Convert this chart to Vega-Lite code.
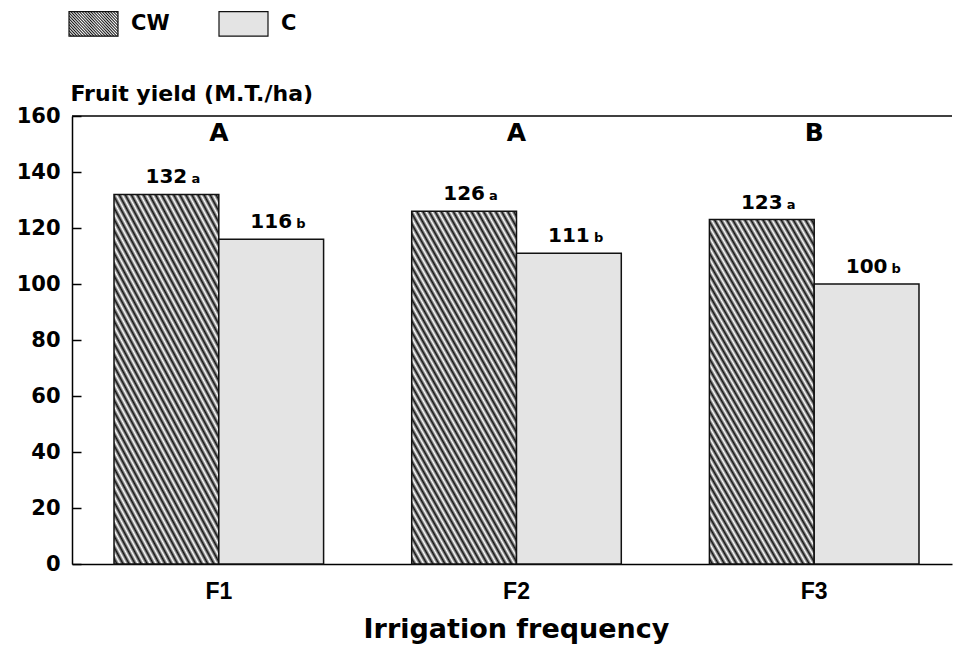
{
  "$schema": "https://vega.github.io/schema/vega-lite/v6.json",
  "autosize": {"type": "none"},
  "width": 880,
  "height": 448,
  "padding": {"left": 72, "top": 116, "right": 2, "bottom": 85},
  "background": "white",
  "config": {"font": "DejaVu Sans", "view": {"stroke": null}},
  "datasets": {
    "bars": [
      {"freq": "F1", "series": "CW", "yield": 132, "letter": "a"},
      {"freq": "F1", "series": "C", "yield": 116, "letter": "b"},
      {"freq": "F2", "series": "CW", "yield": 126, "letter": "a"},
      {"freq": "F2", "series": "C", "yield": 111, "letter": "b"},
      {"freq": "F3", "series": "CW", "yield": 123, "letter": "a"},
      {"freq": "F3", "series": "C", "yield": 100, "letter": "b"}
    ],
    "groups": [
      {"freq": "F1", "grp": "A"},
      {"freq": "F2", "grp": "A"},
      {"freq": "F3", "grp": "B"}
    ]
  },
  "layer": [
    {
      "data": {"name": "bars"},
      "mark": {"type": "bar", "stroke": "#111111", "strokeWidth": 1.5},
      "encoding": {
        "x": {
          "field": "freq", "type": "nominal", "sort": ["F1", "F2", "F3"],
          "scale": {"paddingInner": 0.296, "paddingOuter": 0.126, "align": 0.56},
          "axis": {
            "ticks": false, "domainColor": "black", "domainWidth": 1.5,
            "labelFont": "Liberation Sans", "labelFontSize": 23, "labelFontWeight": "bold",
            "labelColor": "black", "labelPadding": 16, "labelAngle": 0,
            "title": "Irrigation frequency", "titleFont": "DejaVu Sans", "titleFontSize": 27,
            "titleFontWeight": "bold", "titleColor": "black", "titleX": 444, "titleY": 73,
            "titleBaseline": "alphabetic", "titleAlign": "center"
          }
        },
        "xOffset": {"field": "series", "type": "nominal", "sort": ["CW", "C"], "scale": {"paddingInner": 0, "paddingOuter": 0}},
        "y": {
          "field": "yield", "type": "quantitative",
          "scale": {"domain": [0, 160], "nice": false},
          "axis": {
            "values": [0, 20, 40, 60, 80, 100, 120, 140, 160],
            "grid": false,
            "ticks": true, "tickSize": -9, "tickWidth": 1.5, "tickColor": "black", "tickOpacity": 1,
            "domainColor": "black", "domainWidth": 1.5,
            "labelFont": "DejaVu Sans", "labelFontSize": 21, "labelFontWeight": "bold",
            "labelColor": "black", "labelPadding": 21,
            "title": "Fruit yield (M.T./ha)", "titleAngle": 0, "titleX": -2, "titleY": -16,
            "titleAlign": "left", "titleBaseline": "alphabetic", "titleFontSize": 22,
            "titleFontWeight": "bold", "titleColor": "black"
          }
        },
        "fill": {
          "field": "series", "type": "nominal",
          "scale": {
            "domain": ["CW", "C"],
            "range": [
              {"expr": "{gradient: 'linear', x1: 0, y1: 1, x2: 0.633, y2: -0.195, stops: [{offset: 0, color: '#ffffff'}, {offset: 0.01, color: '#111111'}, {offset: 0.02, color: '#ffffff'}, {offset: 0.03, color: '#111111'}, {offset: 0.04, color: '#ffffff'}, {offset: 0.05, color: '#111111'}, {offset: 0.06, color: '#ffffff'}, {offset: 0.07, color: '#111111'}, {offset: 0.08, color: '#ffffff'}, {offset: 0.09, color: '#111111'}, {offset: 0.1, color: '#ffffff'}, {offset: 0.11, color: '#111111'}, {offset: 0.12, color: '#ffffff'}, {offset: 0.13, color: '#111111'}, {offset: 0.14, color: '#ffffff'}, {offset: 0.15, color: '#111111'}, {offset: 0.16, color: '#ffffff'}, {offset: 0.17, color: '#111111'}, {offset: 0.18, color: '#ffffff'}, {offset: 0.19, color: '#111111'}, {offset: 0.2, color: '#ffffff'}, {offset: 0.21, color: '#111111'}, {offset: 0.22, color: '#ffffff'}, {offset: 0.23, color: '#111111'}, {offset: 0.24, color: '#ffffff'}, {offset: 0.25, color: '#111111'}, {offset: 0.26, color: '#ffffff'}, {offset: 0.27, color: '#111111'}, {offset: 0.28, color: '#ffffff'}, {offset: 0.29, color: '#111111'}, {offset: 0.3, color: '#ffffff'}, {offset: 0.31, color: '#111111'}, {offset: 0.32, color: '#ffffff'}, {offset: 0.33, color: '#111111'}, {offset: 0.34, color: '#ffffff'}, {offset: 0.35, color: '#111111'}, {offset: 0.36, color: '#ffffff'}, {offset: 0.37, color: '#111111'}, {offset: 0.38, color: '#ffffff'}, {offset: 0.39, color: '#111111'}, {offset: 0.4, color: '#ffffff'}, {offset: 0.41, color: '#111111'}, {offset: 0.42, color: '#ffffff'}, {offset: 0.43, color: '#111111'}, {offset: 0.44, color: '#ffffff'}, {offset: 0.45, color: '#111111'}, {offset: 0.46, color: '#ffffff'}, {offset: 0.47, color: '#111111'}, {offset: 0.48, color: '#ffffff'}, {offset: 0.49, color: '#111111'}, {offset: 0.5, color: '#ffffff'}, {offset: 0.51, color: '#111111'}, {offset: 0.52, color: '#ffffff'}, {offset: 0.53, color: '#111111'}, {offset: 0.54, color: '#ffffff'}, {offset: 0.55, color: '#111111'}, {offset: 0.56, color: '#ffffff'}, {offset: 0.57, color: '#111111'}, {offset: 0.58, color: '#ffffff'}, {offset: 0.59, color: '#111111'}, {offset: 0.6, color: '#ffffff'}, {offset: 0.61, color: '#111111'}, {offset: 0.62, color: '#ffffff'}, {offset: 0.63, color: '#111111'}, {offset: 0.64, color: '#ffffff'}, {offset: 0.65, color: '#111111'}, {offset: 0.66, color: '#ffffff'}, {offset: 0.67, color: '#111111'}, {offset: 0.68, color: '#ffffff'}, {offset: 0.69, color: '#111111'}, {offset: 0.7, color: '#ffffff'}, {offset: 0.71, color: '#111111'}, {offset: 0.72, color: '#ffffff'}, {offset: 0.73, color: '#111111'}, {offset: 0.74, color: '#ffffff'}, {offset: 0.75, color: '#111111'}, {offset: 0.76, color: '#ffffff'}, {offset: 0.77, color: '#111111'}, {offset: 0.78, color: '#ffffff'}, {offset: 0.79, color: '#111111'}, {offset: 0.8, color: '#ffffff'}, {offset: 0.81, color: '#111111'}, {offset: 0.82, color: '#ffffff'}, {offset: 0.83, color: '#111111'}, {offset: 0.84, color: '#ffffff'}, {offset: 0.85, color: '#111111'}, {offset: 0.86, color: '#ffffff'}, {offset: 0.87, color: '#111111'}, {offset: 0.88, color: '#ffffff'}, {offset: 0.89, color: '#111111'}, {offset: 0.9, color: '#ffffff'}, {offset: 0.91, color: '#111111'}, {offset: 0.92, color: '#ffffff'}, {offset: 0.93, color: '#111111'}, {offset: 0.94, color: '#ffffff'}, {offset: 0.95, color: '#111111'}, {offset: 0.96, color: '#ffffff'}, {offset: 0.97, color: '#111111'}, {offset: 0.98, color: '#ffffff'}, {offset: 0.99, color: '#111111'}, {offset: 1, color: '#ffffff'}]}"},
              "#e4e4e4"
            ]
          },
          "legend": {
            "orient": "none", "legendX": -4, "legendY": -118, "direction": "horizontal",
            "title": null, "padding": 0,
            "symbolType": "M-1,-0.5H1V0.5H-1Z", "symbolSize": 2401,
            "symbolStrokeColor": "#111111", "symbolStrokeWidth": 1.2,
            "labelFont": "DejaVu Sans", "labelFontSize": 21, "labelFontWeight": "bold",
            "labelColor": "black", "labelOffset": 12, "columnPadding": 46,
            "encode": {
              "symbols": {
                "update": {
                  "stroke": {"value": "#111111"},
                  "strokeWidth": {"value": 1.2},
                  "fill": {"signal": "datum.value === 'CW' ? {gradient: 'linear', x1: 0, y1: 1, x2: 1.186, y2: 0.67, stops: [{offset: 0, color: '#ffffff'}, {offset: 0.05, color: '#111111'}, {offset: 0.1, color: '#ffffff'}, {offset: 0.15, color: '#111111'}, {offset: 0.2, color: '#ffffff'}, {offset: 0.25, color: '#111111'}, {offset: 0.3, color: '#ffffff'}, {offset: 0.35, color: '#111111'}, {offset: 0.4, color: '#ffffff'}, {offset: 0.45, color: '#111111'}, {offset: 0.5, color: '#ffffff'}, {offset: 0.55, color: '#111111'}, {offset: 0.6, color: '#ffffff'}, {offset: 0.65, color: '#111111'}, {offset: 0.7, color: '#ffffff'}, {offset: 0.75, color: '#111111'}, {offset: 0.8, color: '#ffffff'}, {offset: 0.85, color: '#111111'}, {offset: 0.9, color: '#ffffff'}, {offset: 0.95, color: '#111111'}, {offset: 1, color: '#ffffff'}]} : '#e4e4e4'"}
                }
              }
            }
          }
        }
      }
    },
    {
      "data": {"name": "bars"},
      "mark": {"type": "text", "baseline": "alphabetic", "dy": -11, "font": "DejaVu Sans", "fontSize": 20, "fontWeight": "bold", "color": "black"},
      "encoding": {
        "x": {"field": "freq", "type": "nominal", "sort": ["F1", "F2", "F3"]},
        "xOffset": {"field": "series", "type": "nominal", "sort": ["CW", "C"]},
        "y": {"field": "yield", "type": "quantitative"},
        "text": {"field": "yield", "type": "quantitative"}
      }
    },
    {
      "data": {"name": "bars"},
      "mark": {"type": "text", "baseline": "alphabetic", "align": "left", "dx": 25, "dy": -11, "font": "DejaVu Sans", "fontSize": 13, "fontWeight": "bold", "color": "black"},
      "encoding": {
        "x": {"field": "freq", "type": "nominal", "sort": ["F1", "F2", "F3"]},
        "xOffset": {"field": "series", "type": "nominal", "sort": ["CW", "C"]},
        "y": {"field": "yield", "type": "quantitative"},
        "text": {"field": "letter", "type": "nominal"}
      }
    },
    {
      "data": {"name": "groups"},
      "mark": {"type": "text", "baseline": "middle", "font": "DejaVu Sans", "fontSize": 25, "fontWeight": "bold", "color": "black"},
      "encoding": {
        "x": {"field": "freq", "type": "nominal", "sort": ["F1", "F2", "F3"]},
        "y": {"datum": 154, "type": "quantitative"},
        "text": {"field": "grp", "type": "nominal"}
      }
    },
    {
      "data": {"values": [{}]},
      "mark": {"type": "rule", "color": "black", "strokeWidth": 1.5},
      "encoding": {"y": {"datum": 160, "type": "quantitative"}}
    }
  ]
}
